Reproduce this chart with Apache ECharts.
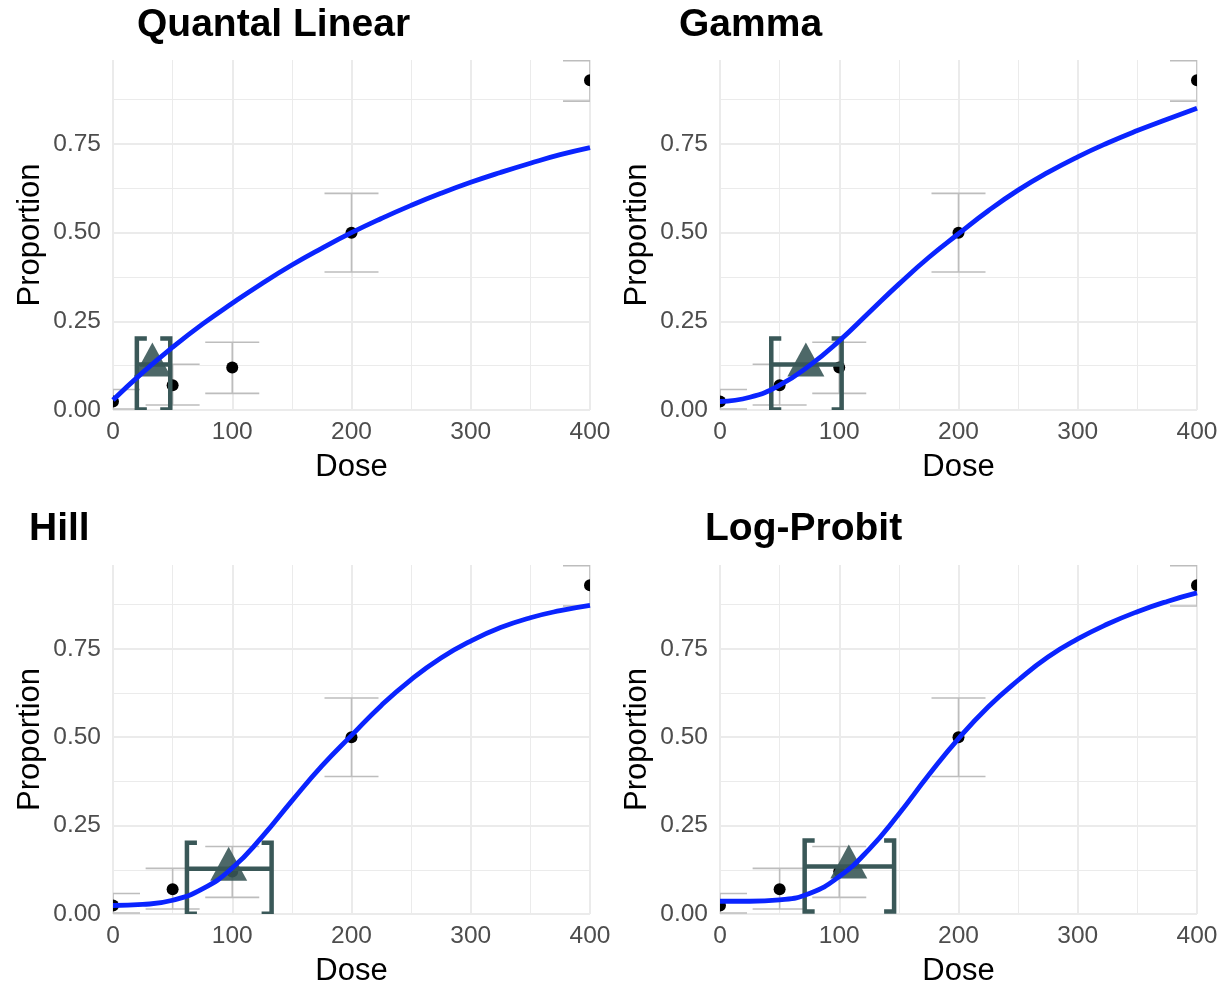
<!DOCTYPE html>
<html>
<head>
<meta charset="utf-8">
<script src="https://cdn.jsdelivr.net/npm/echarts@6/dist/echarts.min.js"></script>
<style>
html,body{margin:0;padding:0;background:#ffffff;}
#chart{width:1217px;height:986px;}
</style>
</head>
<body>
<div id="chart"></div>
<script>
// ---------- data ----------
const modelNames = ['Quantal Linear', 'Gamma', 'Hill', 'Log-Probit'];

// observed dose groups
const doses = [0, 50, 100, 200, 400];
const proportions = [0.024, 0.07, 0.12, 0.5, 0.93];
const ciLower = [0.003, 0.014, 0.047, 0.389, 0.871];
const ciUpper = [0.058, 0.129, 0.191, 0.611, 0.985];

// fitted model curves
const curveDoses = [0, 25, 50, 75, 100, 125, 150, 175, 200, 225, 250, 275, 300, 325, 350, 375, 400];
const curveQuantalLinear = [0.028, 0.106, 0.177, 0.242, 0.301, 0.357, 0.409, 0.456, 0.5, 0.54, 0.577, 0.611, 0.642, 0.67, 0.696, 0.72, 0.74];
const curveGamma = [0.024, 0.036, 0.07, 0.125, 0.195, 0.275, 0.355, 0.43, 0.497, 0.562, 0.62, 0.67, 0.714, 0.753, 0.788, 0.82, 0.851];
const curveHill = [0.024, 0.027, 0.039, 0.071, 0.13, 0.218, 0.32, 0.418, 0.505, 0.59, 0.663, 0.724, 0.772, 0.81, 0.838, 0.858, 0.873];
const curveLogProbit = [0.036, 0.036, 0.04, 0.058, 0.106, 0.183, 0.283, 0.393, 0.496, 0.586, 0.661, 0.727, 0.778, 0.82, 0.855, 0.884, 0.908];

// benchmark dose estimates and confidence limits
const bmdValues = [33, 72, 97, 108];
const bmdlValues = [20, 43, 62, 71];
const bmduValues = [48, 102, 133, 146];
const bmrLevels = [0.128, 0.128, 0.128, 0.134];

// axes
const xTicks = [0, 100, 200, 300, 400];
const yTickLabels = ['0.00', '0.25', '0.50', '0.75'];
const yTop = 0.987;

// ---------- layout / styling ----------
const curves = [curveQuantalLinear, curveGamma, curveHill, curveLogProbit];
const panels = [
  {left: 113, top: 60, width: 477, height: 350, titleLeft: 137, titleTop: 6},
  {left: 720, top: 60, width: 477, height: 350, titleLeft: 679, titleTop: 6},
  {left: 113, top: 565, width: 477, height: 349, titleLeft: 29, titleTop: 510},
  {left: 720, top: 565, width: 477, height: 349, titleLeft: 705, titleTop: 510}
];
const FONT = '"Liberation Sans", Arial, Helvetica, sans-serif';
const GRID_COLOR = '#ebebeb';
const BMD_COLOR = '#3a5858';

function renderErrorBar(params, api) {
  const x = api.value(0), lo = api.value(1), hi = api.value(2);
  const pLo = api.coord([x, lo]);
  const pHi = api.coord([x, hi]);
  const hw = 27;
  const st = {stroke: '#bdbdbd', lineWidth: 1.6, fill: null};
  return {
    type: 'group',
    children: [
      {type: 'line', shape: {x1: pLo[0], y1: pLo[1], x2: pHi[0], y2: pHi[1]}, style: st},
      {type: 'line', shape: {x1: pLo[0] - hw, y1: pLo[1], x2: pLo[0] + hw, y2: pLo[1]}, style: st},
      {type: 'line', shape: {x1: pHi[0] - hw, y1: pHi[1], x2: pHi[0] + hw, y2: pHi[1]}, style: st}
    ]
  };
}

function renderPoint(params, api) {
  const p = api.coord([api.value(0), api.value(1)]);
  return {type: 'circle', shape: {cx: p[0], cy: p[1], r: 6}, style: {fill: '#000000'}};
}

function renderBmd(params, api) {
  const bmd = api.value(0), lo = api.value(1), hi = api.value(2), lvl = api.value(3);
  const pc = api.coord([bmd, lvl]);
  const pl = api.coord([lo, lvl]);
  const ph = api.coord([hi, lvl]);
  const y = pc[1];
  const up = 26, down = 45, serif = 10, sw = 4.5;
  const lineSt = {stroke: BMD_COLOR, lineWidth: sw, fill: null, lineJoin: 'miter'};
  return {
    type: 'group',
    children: [
      {type: 'line', shape: {x1: pl[0], y1: y, x2: ph[0], y2: y}, style: lineSt},
      {type: 'polyline', shape: {points: [[pl[0] + serif, y - up], [pl[0], y - up], [pl[0], y + down], [pl[0] + serif, y + down]]}, style: lineSt},
      {type: 'polyline', shape: {points: [[ph[0] - serif, y - up], [ph[0], y - up], [ph[0], y + down], [ph[0] - serif, y + down]]}, style: lineSt},
      {type: 'polygon', shape: {points: [[pc[0], y - 22], [pc[0] - 18.5, y + 12], [pc[0] + 18.5, y + 12]]}, style: {fill: BMD_COLOR, opacity: 0.9}}
    ]
  };
}

const grids = [], xAxes = [], yAxes = [], series = [], titles = [];

panels.forEach((pn, i) => {
  grids.push({left: pn.left, top: pn.top, width: pn.width, height: pn.height, containLabel: false, outerBoundsMode: 'none'});
  titles.push({
    text: modelNames[i], left: pn.titleLeft, top: pn.titleTop, padding: 0,
    textStyle: {fontFamily: FONT, fontSize: 39, fontWeight: 'bold', color: '#000000'}
  });
  // major x axis
  xAxes.push({
    type: 'value', gridIndex: i, min: xTicks[0], max: xTicks[xTicks.length - 1], interval: xTicks[1] - xTicks[0],
    name: 'Dose', nameLocation: 'middle', nameGap: 42,
    nameTextStyle: {fontFamily: FONT, fontSize: 31, color: '#000000'},
    axisLine: {show: false}, axisTick: {show: false},
    axisLabel: {fontFamily: FONT, fontSize: 24.5, color: '#4d4d4d', margin: 10, hideOverlap: false},
    splitLine: {show: true, lineStyle: {color: GRID_COLOR, width: 2}}
  });
  // minor x axis
  xAxes.push({
    type: 'value', gridIndex: i, min: xTicks[0], max: xTicks[xTicks.length - 1], interval: (xTicks[1] - xTicks[0]) / 2,
    axisLine: {show: false}, axisTick: {show: false}, axisLabel: {show: false},
    splitLine: {show: true, lineStyle: {color: GRID_COLOR, width: 1}}
  });
  // major y axis
  yAxes.push({
    type: 'value', gridIndex: i, min: 0, max: yTop, interval: 0.25,
    name: 'Proportion', nameLocation: 'middle', nameGap: 67, nameRotate: 90,
    nameTextStyle: {fontFamily: FONT, fontSize: 31, color: '#000000'},
    axisLine: {show: false}, axisTick: {show: false},
    axisLabel: {
      fontFamily: FONT, fontSize: 24.5, color: '#4d4d4d', margin: 12, showMaxLabel: false,
      formatter: function (v) {
        const k = Math.round(v / 0.25);
        return (Math.abs(v - k * 0.25) < 1e-6 && k < yTickLabels.length) ? yTickLabels[k] : '';
      }
    },
    splitLine: {show: true, showMaxLine: false, lineStyle: {color: GRID_COLOR, width: 2}}
  });
  // minor y axis
  yAxes.push({
    type: 'value', gridIndex: i, min: 0, max: yTop, interval: 0.125, position: 'left',
    axisLine: {show: false}, axisTick: {show: false}, axisLabel: {show: false},
    splitLine: {show: true, showMaxLine: false, lineStyle: {color: GRID_COLOR, width: 1}}
  });

  const xi = 2 * i, yi = 2 * i;
  series.push({
    type: 'custom', xAxisIndex: xi, yAxisIndex: yi, clip: true, silent: true,
    renderItem: renderErrorBar,
    data: doses.map((d, k) => [d, ciLower[k], ciUpper[k]])
  });
  series.push({
    type: 'line', xAxisIndex: xi, yAxisIndex: yi, clip: true, silent: true,
    showSymbol: false, symbol: 'none', smooth: 0.5,
    lineStyle: {color: '#0a24ff', width: 4.8},
    data: curveDoses.map((d, k) => [d, curves[i][k]])
  });
  series.push({
    type: 'custom', xAxisIndex: xi, yAxisIndex: yi, clip: true, silent: true,
    renderItem: renderPoint,
    data: doses.map((d, k) => [d, proportions[k]])
  });
  series.push({
    type: 'custom', xAxisIndex: xi, yAxisIndex: yi, clip: true, silent: true,
    renderItem: renderBmd,
    data: [[bmdValues[i], bmdlValues[i], bmduValues[i], bmrLevels[i]]]
  });
});

const chart = echarts.init(document.getElementById('chart'), null, {renderer: 'canvas'});
chart.setOption({
  backgroundColor: '#ffffff',
  animation: false,
  title: titles,
  grid: grids,
  xAxis: xAxes,
  yAxis: yAxes,
  series: series
});
</script>
</body>
</html>
